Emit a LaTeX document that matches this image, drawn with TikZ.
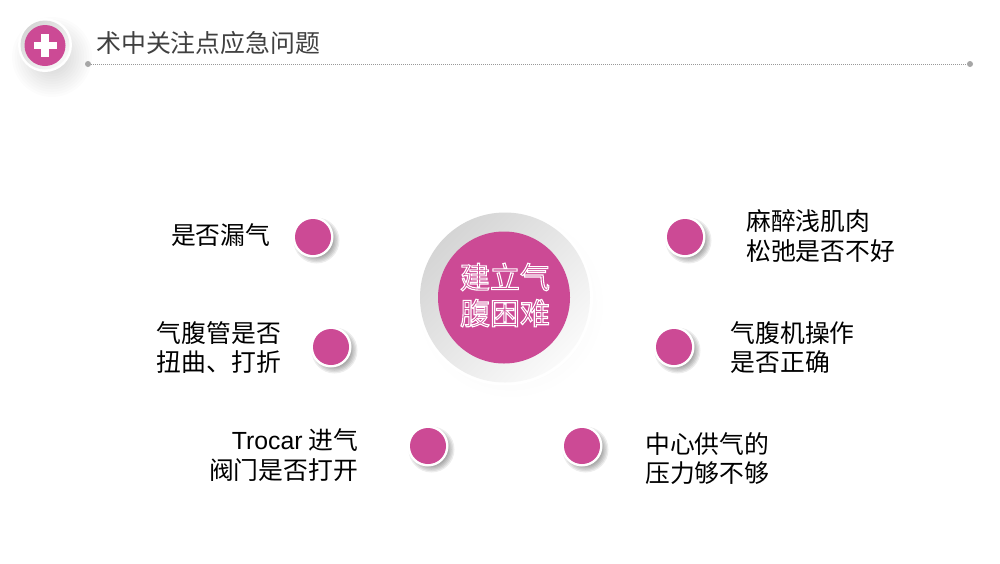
\documentclass[tikz,border=0pt]{standalone}
\usepackage{fontspec}
\setmainfont{Liberation Sans}
\newfontfamily\cjk{Noto Sans CJK SC}
\usetikzlibrary{calc}
\definecolor{rosepink}{HTML}{CC4A95}
\definecolor{titlegray}{HTML}{404040}
\newcommand{\softshadow}[4]{% centre x, centre y, radius, strength
  \foreach \k in {0,...,11}
    \fill[black,opacity=#4] (#1,#2) circle ({#3*(1-\k/14)+4});
}
\newcommand{\outlinetext}[1]{\special{pdf:code q 1 Tr 1.1 w 1 1 1 RG}#1\special{pdf:code Q}}
\tikzset{
  bullet/.style={circle,fill=rosepink,minimum size=36pt,inner sep=0pt},
  bulletring/.style={circle,fill=white,minimum size=41pt,inner sep=0pt},
  label/.style={font=\cjk\fontsize{24.8}{29.5}\selectfont,text=black,inner sep=0pt},
}
\begin{document}
\begin{tikzpicture}[x=1pt,y=-1pt]
    \useasboundingbox (0,0) rectangle (1000,563);
    \fill[white] (0,0) rectangle (1000,563);
    % header
    \softshadow{52}{57}{36}{0.012}
    \node[circle,fill=white,minimum size=54pt,inner sep=0pt] (iconrim) at (45,45) {};
    \node[circle,inner sep=0pt,minimum size=49pt,top color=gray!32,bottom color=gray!6,shading angle=45] (iconring) at (45,45) {};
    \node[circle,fill=rosepink,minimum size=41pt,inner sep=0pt] (iconcore) at (45,45.5) {};
    \fill[white] ($(iconcore)+(-11.5,-3.8)$) rectangle ($(iconcore)+(11.5,3.8)$);
    \fill[white] ($(iconcore)+(-3.8,-11.5)$) rectangle ($(iconcore)+(3.8,11.5)$);
    \node[label,anchor=west,text=titlegray,font=\cjk\fontsize{24.9}{30}\selectfont] (title) at (96,43) {术中关注点应急问题};
    \node[circle,fill=gray!70,minimum size=6pt,inner sep=0pt] (ruleL) at (88,64) {};
    \node[circle,fill=gray!70,minimum size=6pt,inner sep=0pt] (ruleR) at (970,64) {};
    \draw[gray!80,line width=1pt,dash pattern=on 1pt off 1pt] (ruleL)--(ruleR);
    % centre
    \softshadow{511}{305}{88}{0.004}
    \node[circle,fill=white,minimum size=176pt,inner sep=0pt] (hubrim) at (505,297.5) {};
    \node[circle,inner sep=0pt,minimum size=170pt,top color=gray!33,bottom color=gray!4,shading angle=45] (hubring) at (505,297.5) {};
    \node[circle,fill=rosepink,minimum size=132pt,inner sep=0pt] (hub) at (504,297.5) {};
    \node[font=\cjk\fontsize{30}{36}\selectfont,align=center,text=white,inner sep=0pt] (hubtext) at (505,295) {\outlinetext{建立气}\\\outlinetext{腹困难}};
    % bullets
    \foreach \nm/\x/\y in {a/313/237,b/331/347,c/428/446,d/582/446,e/674/347,f/685/237}{
      \softshadow{\x+3.5}{\y+3.5}{19}{0.07}
      \node[bulletring] (ring\nm) at (\x,\y) {};
      \node[bullet] (dot\nm) at (\x,\y) {};
    }
    % labels
    \node[label,anchor=east,align=right] (texta) at (270.5,235) {是否漏气};
    \node[label,anchor=east,align=right] (textb) at (281,347.5) {气腹管是否\\扭曲、打折};
    \node[label,anchor=east,align=right] (textc) at (358,455) {\textrm{Trocar} 进气\\阀门是否打开};
    \node[label,anchor=west,align=left] (textd) at (645,458.5) {中心供气的\\压力够不够};
    \node[label,anchor=west,align=left] (texte) at (730.5,347.5) {气腹机操作\\是否正确};
    \node[label,anchor=west,align=left] (textf) at (746,236) {麻醉浅肌肉\\松弛是否不好};
\end{tikzpicture}
\end{document}
